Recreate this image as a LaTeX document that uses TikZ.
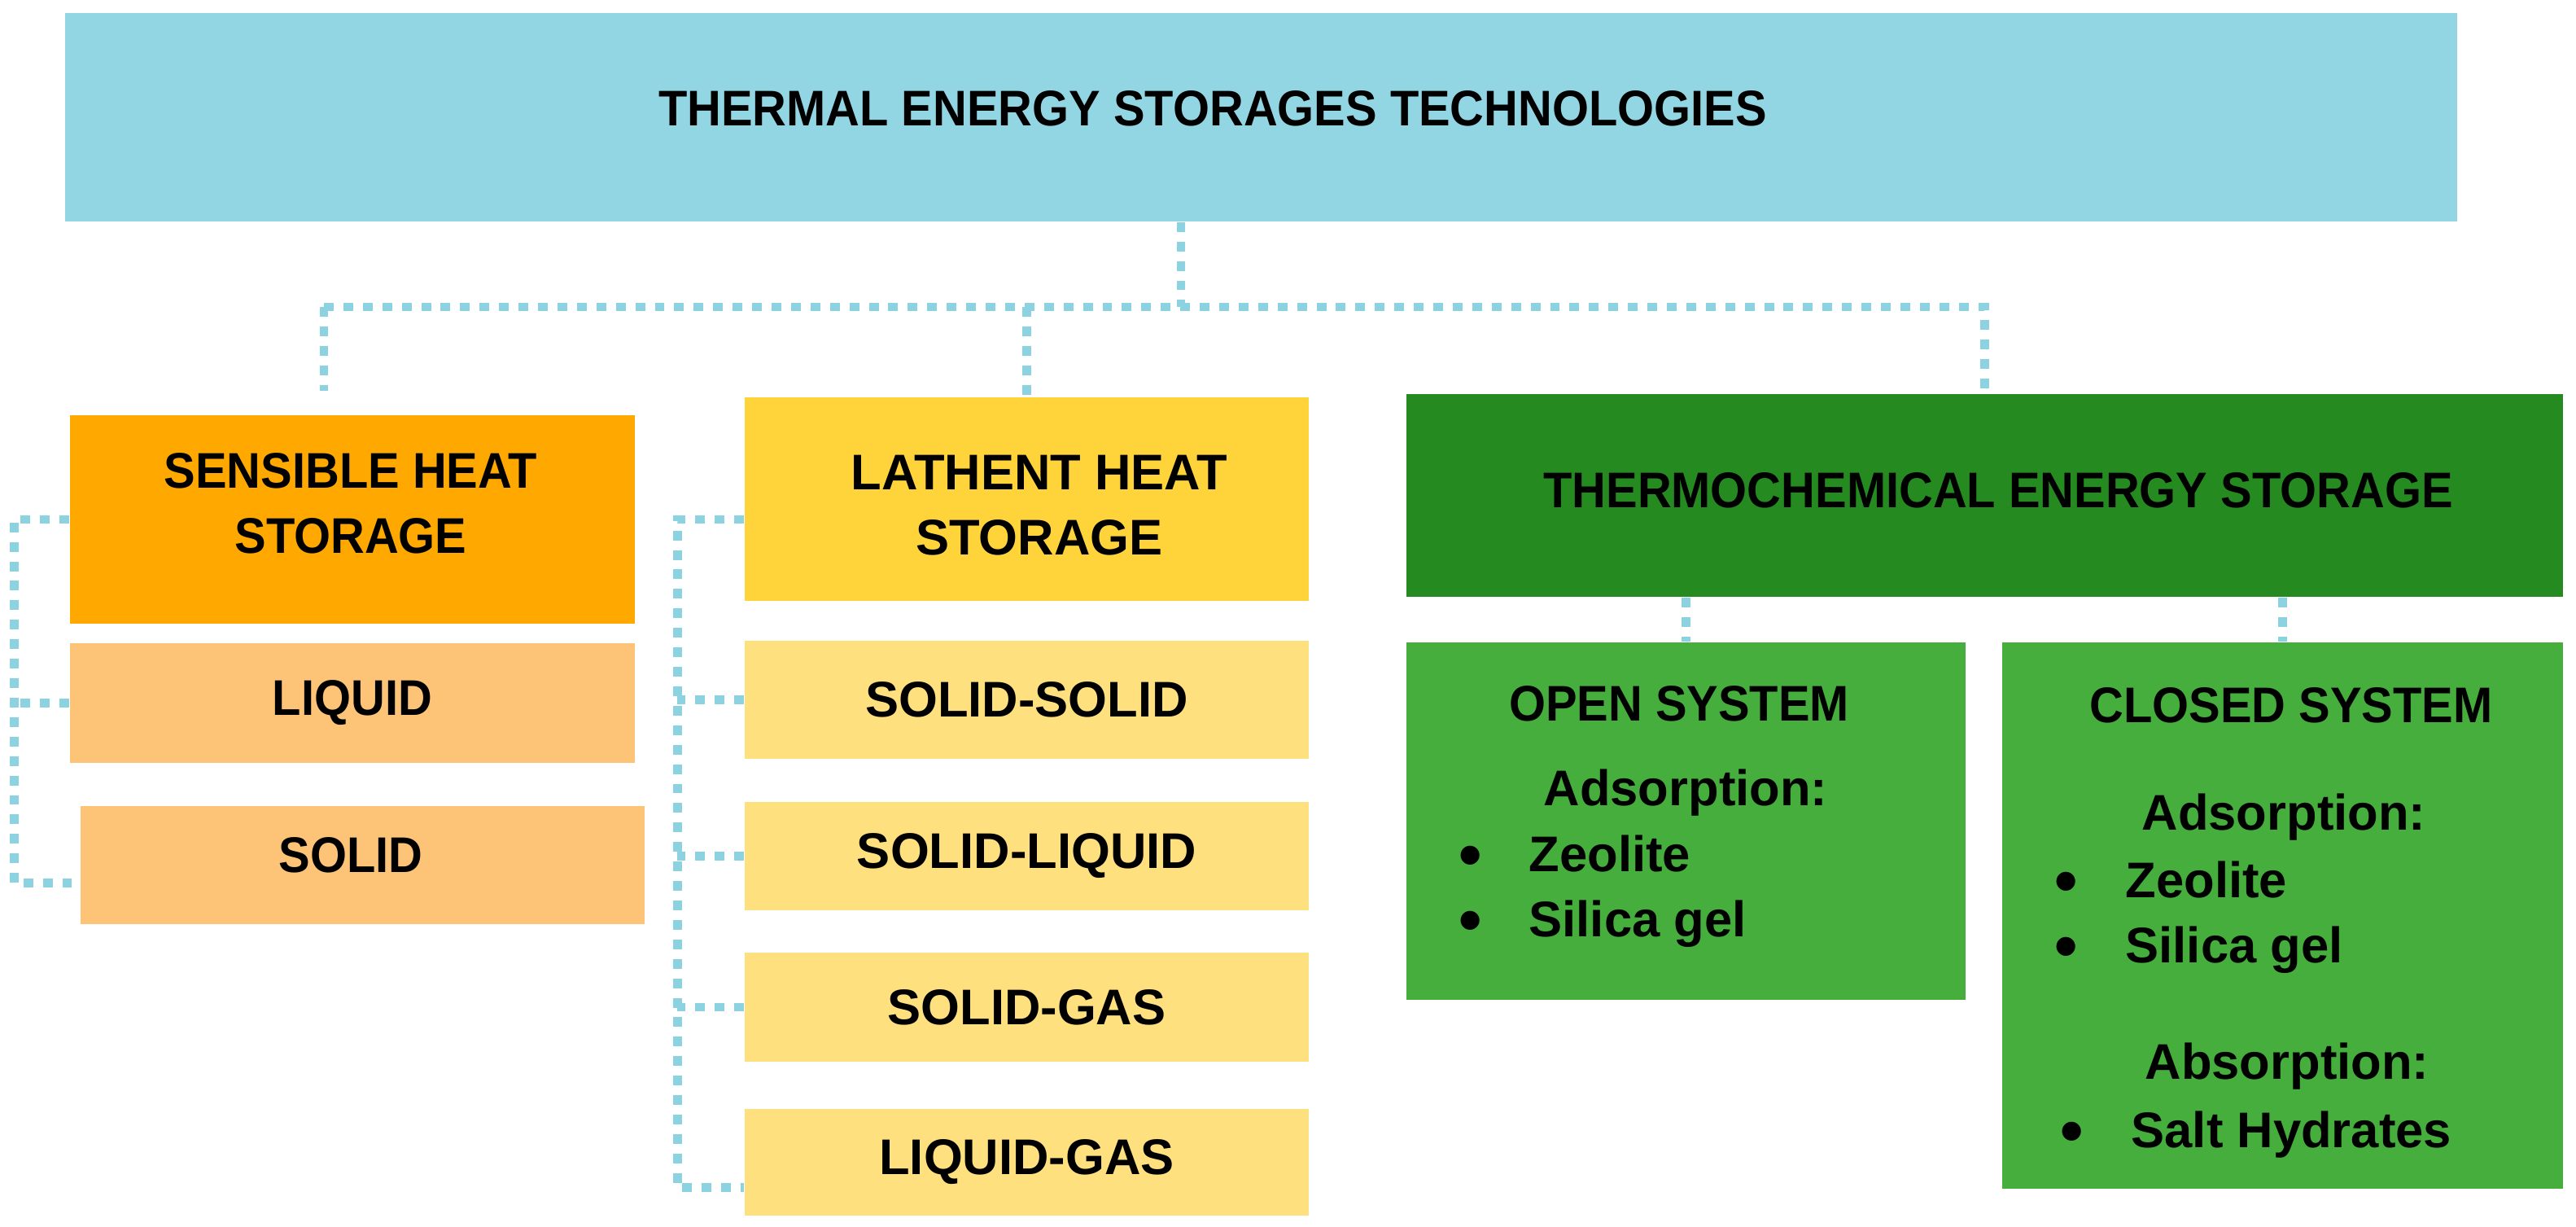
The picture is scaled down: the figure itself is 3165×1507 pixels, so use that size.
\documentclass[tikz,border=0pt]{standalone}
\usepackage{fontspec}
\setmainfont{Liberation Sans}
\newfontfamily\condfont{Liberation Sans}[FakeStretch=0.94]
\usetikzlibrary{calc}
\definecolor{tesblue}{HTML}{93D6E3}
\definecolor{dotblue}{HTML}{8CD2E0}
\definecolor{sensorange}{HTML}{FFA800}
\definecolor{senslight}{HTML}{FDC477}
\definecolor{latyellow}{HTML}{FFD43B}
\definecolor{latlight}{HTML}{FFE07F}
\definecolor{tcegreen}{HTML}{258B21}
\definecolor{syslight}{HTML}{45AE3C}

\tikzset{
  box/.style={rectangle, inner sep=0pt, align=center},
  txt/.style={inner sep=0pt, align=center, font=\bfseries\fontsize{17.5}{22.8}\selectfont},
  cond/.style={font=\condfont\bfseries\fontsize{17.5}{22.8}\selectfont},
  dot/.style={inner sep=0pt, anchor=base, font=\bfseries\fontsize{23}{23}\selectfont},
  link/.style={draw=dotblue, line width=3.1pt, dash pattern=on 3.4pt off 3.4pt},
}

\begin{document}
\begin{tikzpicture}[x=0.01cm, y=-0.01cm]
  \useasboundingbox (0,0) rectangle (3165,1507);

  % top
  \node[box, fill=tesblue, minimum width=29.37cm, minimum height=2.56cm] (tes) at (1549.5,144) {};
  \node[txt, cond] (tesT) at (1490,133) {THERMAL ENERGY STORAGES TECHNOLOGIES};

  % sensible heat
  \node[box, fill=sensorange, minimum width=6.94cm, minimum height=2.56cm] (sens) at (433,638) {};
  \node[txt, cond] (sensT) at (431,618) {SENSIBLE HEAT\\STORAGE};
  \node[box, txt, cond, fill=senslight, minimum width=6.94cm, minimum height=1.47cm] (liq) at (433,863.5) {LIQUID};
  \node[box, fill=senslight, minimum width=6.93cm, minimum height=1.45cm] (sol) at (445.5,1062.5) {};
  \node[txt, cond] (solT) at (431,1050) {SOLID};

  % lathent heat
  \node[box, fill=latyellow, minimum width=6.93cm, minimum height=2.50cm] (lat) at (1261.5,613) {};
  \node[txt] (latT) at (1277,621) {LATHENT HEAT\\STORAGE};
  \node[box, txt, fill=latlight, minimum width=6.93cm, minimum height=1.45cm] (ss) at (1261.5,859.5) {SOLID-SOLID};
  \node[box, txt, fill=latlight, minimum width=6.93cm, minimum height=1.33cm] (sl) at (1261.5,1051.5) {SOLID-LIQUID};
  \node[box, txt, fill=latlight, minimum width=6.93cm, minimum height=1.34cm] (sg) at (1261.5,1237) {SOLID-GAS};
  \node[box, txt, fill=latlight, minimum width=6.93cm, minimum height=1.31cm] (lg) at (1261.5,1427.5) {LIQUID-GAS};

  % thermochemical
  \node[box, fill=tcegreen, minimum width=14.21cm, minimum height=2.49cm] (tce) at (2438.5,608.5) {};
  \node[txt, cond] (tceT) at (2455,602) {THERMOCHEMICAL ENERGY STORAGE};
  \node[box, fill=syslight, minimum width=6.87cm, minimum height=4.39cm] (open) at (2071.5,1008.5) {};
  \node[box, fill=syslight, minimum width=6.89cm, minimum height=6.71cm] (closed) at (2804.5,1124.5) {};

  % open system
  \node[txt, cond, anchor=base] (openT) at (2063,886) {OPEN SYSTEM};
  \node[txt, anchor=base] (openAd) at (2071,990) {Adsorption:};
  \node[dot] (openB1) at (1807,1078) {•};
  \node[txt, anchor=base west] (openZ) at (1878,1071) {Zeolite};
  \node[dot] (openB2) at (1807,1158) {•};
  \node[txt, anchor=base west] (openS) at (1878,1151) {Silica gel};

  % closed system
  \node[txt, cond, anchor=base] (closedT) at (2815,888) {CLOSED SYSTEM};
  \node[txt, anchor=base] (closedAd) at (2806,1020) {Adsorption:};
  \node[dot] (closedB1) at (2539,1110) {•};
  \node[txt, anchor=base west] (closedZ) at (2611,1103) {Zeolite};
  \node[dot] (closedB2) at (2539,1190) {•};
  \node[txt, anchor=base west] (closedS) at (2611,1183) {Silica gel};
  \node[txt, anchor=base] (closedAb) at (2810,1326) {Absorption:};
  \node[dot] (closedB3) at (2546,1417) {•};
  \node[txt, anchor=base west] (closedH) at (2618,1410) {Salt Hydrates};

  % connectors
  \coordinate (bus) at (1451,377);
  \coordinate (busL) at (398,377);
  \coordinate (sensIn) at (398,480);
  \draw[link] (bus |- tes.south) -- (bus);
  \draw[link] (busL) -- (tce.north |- busL) -- (tce.north);
  \draw[link] (busL) -- (sensIn);
  \draw[link] (lat.north |- busL) -- (lat.north);

  \draw[link] (sens.west) -| ($(sol.west)+(-81,22)$) -- ($(sol.west)+(0,22)$);
  \draw[link] (liq.west) -- ++(-68,0);

  \draw[link] ($(lat.west)+(0,25)$) -| ($(lg.west)+(-82,31)$) -- ($(lg.west)+(0,31)$);
  \draw[link] (ss.west) -- ++(-82,0);
  \draw[link] (sl.west) -- ++(-82,0);
  \draw[link] (sg.west) -- ++(-82,0);

  \draw[link] (tce.south -| open.north) -- (open.north);
  \draw[link] (tce.south -| closed.north) -- (closed.north);
\end{tikzpicture}
\end{document}
